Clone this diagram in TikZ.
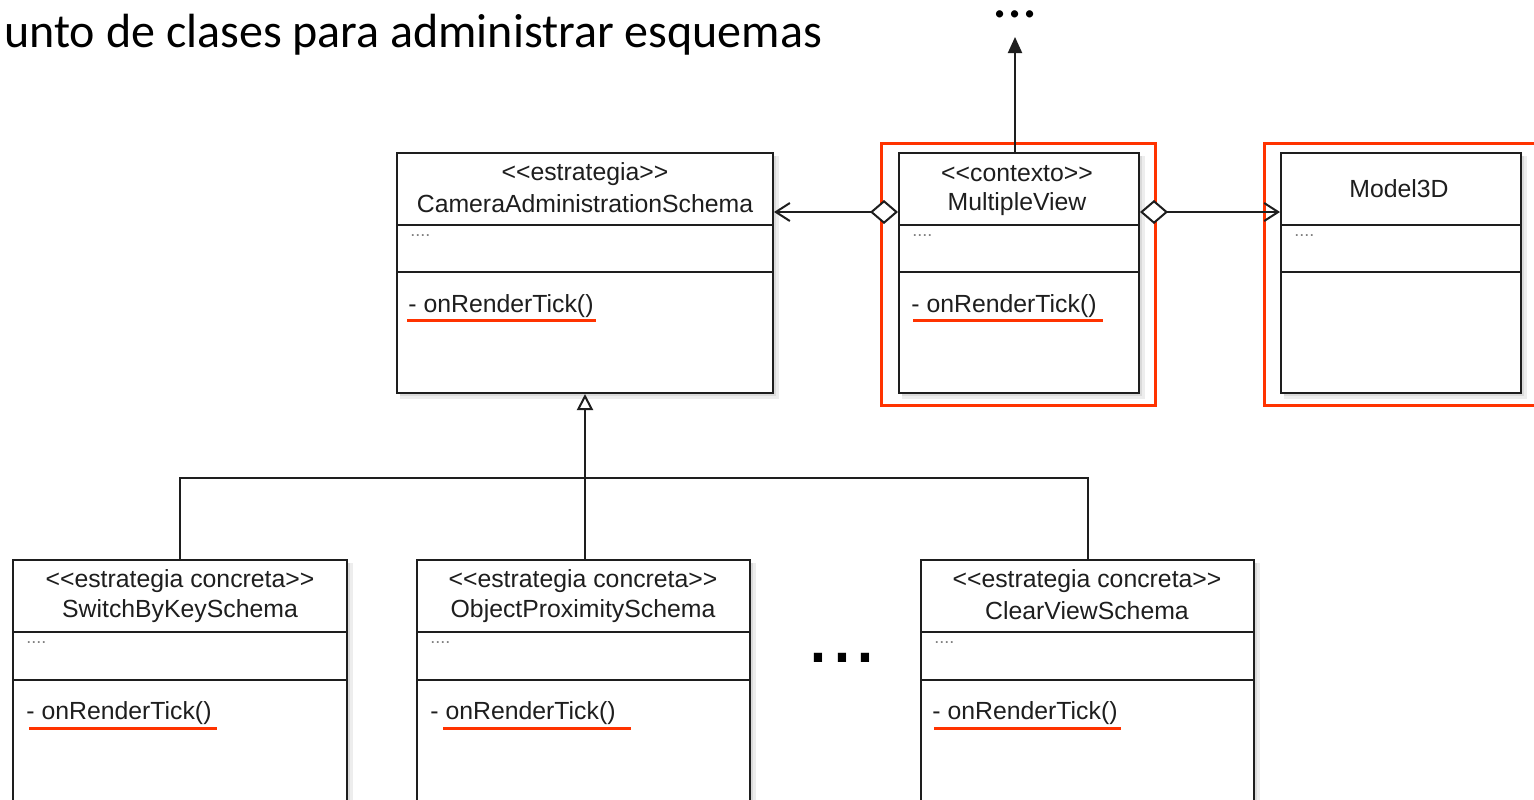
\documentclass[tikz,border=0pt]{standalone}
\usepackage{fontspec}
\setmainfont{Liberation Sans}
\newfontfamily\calib{Carlito}
\newfontfamily\arialdots{Liberation Sans}
\usetikzlibrary{arrows.meta,fit}
\definecolor{hl}{RGB}{255,51,0}
\definecolor{ink}{RGB}{30,30,30}
\newcommand\stlt{<\kern0pt<}
\newcommand\stgt{>\kern0pt>}
\newcommand\umlbox[7]{% name, left, top, right, bottom, line1, line2
  \fill[black,opacity=0.07] (#2+3,#3+3) rectangle (#4+6,#5+6);
  \fill[black,opacity=0.08] (#2+3,#3+3) rectangle (#4+3,#5+3);
  \node[cls, fit={(#2,#3) (#4,#5)}] (#1) {};
  \draw[clsline] (#1.west |- 0,#6) -- (#1.east |- 0,#6);
  \draw[clsline] (#1.west |- 0,#7) -- (#1.east |- 0,#7);
}
\begin{document}
\begin{tikzpicture}[x=0.5pt,y=-0.5pt,
  cls/.style={draw=ink, line width=1pt, fill=white, inner sep=0pt},
  clsline/.style={draw=ink, line width=1pt},
  txt/.style={font=\fontsize{12.4}{14}\selectfont, text=ink, inner sep=0pt},
  attr/.style={font=\fontsize{9}{10}\selectfont, text=black!50, inner sep=0pt, anchor=west},
  meth/.style={txt, anchor=base west},
  hlbox/.style={draw=hl, line width=1.5pt},
  hlline/.style={draw=hl, line width=1.5pt},
  conn/.style={draw=ink, line width=1pt}]
\clip (0,0) rectangle (1534,799);
\fill[white] (0,0) rectangle (1534,799);

% title
\node[anchor=base west, inner sep=0pt, font=\calib\fontsize{24}{28}\selectfont] (title) at (4,47) {unto de clases para administrar esquemas};
\node[inner sep=0pt, font=\calib\fontsize{30}{32}\selectfont, anchor=base] (topdots) at (1015,17) {...};

% class boxes
\umlbox{cas}{397}{153}{773}{393}{225}{272}
\umlbox{mv}{899}{153}{1139}{393}{225}{272}
\umlbox{m3d}{1281}{153}{1521}{393}{225}{272}
\umlbox{sw}{13}{560}{347}{830}{632}{680}
\umlbox{op}{417}{560}{750}{830}{632}{680}
\umlbox{cv}{921}{560}{1254}{830}{632}{680}

% texts
\node[txt] (cas-s) at (585,174) {\stlt estrategia\stgt};
\node[txt] (cas-n) at (585,204) {CameraAdministrationSchema};
\node[attr] (cas-a) at (410,236) {....};
\node[meth] (cas-m) at (408,312) {- onRenderTick()};

\node[txt] (mv-s) at (1017,174) {\stlt contexto\stgt};
\node[txt] (mv-n) at (1017,204) {MultipleView};
\node[attr] (mv-a) at (912,236) {....};
\node[meth] (mv-m) at (911,312) {- onRenderTick()};

\node[txt] (m3d-n) at (1399,189) {Model3D};
\node[attr] (m3d-a) at (1294,236) {....};

\node[txt] (sw-s) at (180,581) {\stlt estrategia concreta\stgt};
\node[txt] (sw-n) at (180,611) {SwitchByKeySchema};
\node[attr] (sw-a) at (26,643) {....};
\node[meth] (sw-m) at (26,719) {- onRenderTick()};

\node[txt] (op-s) at (583,581) {\stlt estrategia concreta\stgt};
\node[txt] (op-n) at (583,611) {ObjectProximitySchema};
\node[attr] (op-a) at (430,643) {....};
\node[meth] (op-m) at (430,719) {- onRenderTick()};

\node[txt] (cv-s) at (1087,581) {\stlt estrategia concreta\stgt};
\node[txt] (cv-n) at (1087,611) {ClearViewSchema};
\node[attr] (cv-a) at (934,643) {....};
\node[meth] (cv-m) at (932,719) {- onRenderTick()};

\node[inner sep=0pt, font=\arialdots\fontsize{43}{46}\selectfont, anchor=base] (middots) at (842,662) {...};

% red highlights
\draw[hlbox] (881,143) rectangle (1155,405);
\draw[hlbox] (1264,143) rectangle (1545,405);
\draw[hlline] (407,320) -- (596,320);
\draw[hlline] (913,320) -- (1103,320);
\draw[hlline] (29,728) -- (217,728);
\draw[hlline] (443,728) -- (631,728);
\draw[hlline] (934,728) -- (1121,728);

% connectors
\draw[conn, {Diamond[fill=white,length=14pt,width=12pt]}-{Straight Barb[length=7pt,width=9pt]}] (mv.west |- 0,212) -- (cas.east |- 0,212);
\draw[conn, {Diamond[fill=white,length=14pt,width=12pt]}-{Straight Barb[length=7pt,width=9pt]}] (mv.east |- 0,212) -- (m3d.west |- 0,212);
\coordinate (uptip) at (1015,37);
\draw[conn, -{Triangle[length=8pt,width=7pt]}] (mv.north -| uptip) -- (uptip);

\coordinate (bus) at (585,478);
\draw[conn] (sw.north) |- (bus);
\draw[conn] (cv.north) |- (bus);
\draw[conn, -{Triangle[open,fill=white,length=8pt,width=8pt]}] (cas.south |- op.north) -- (cas.south);
\end{tikzpicture}
\end{document}
